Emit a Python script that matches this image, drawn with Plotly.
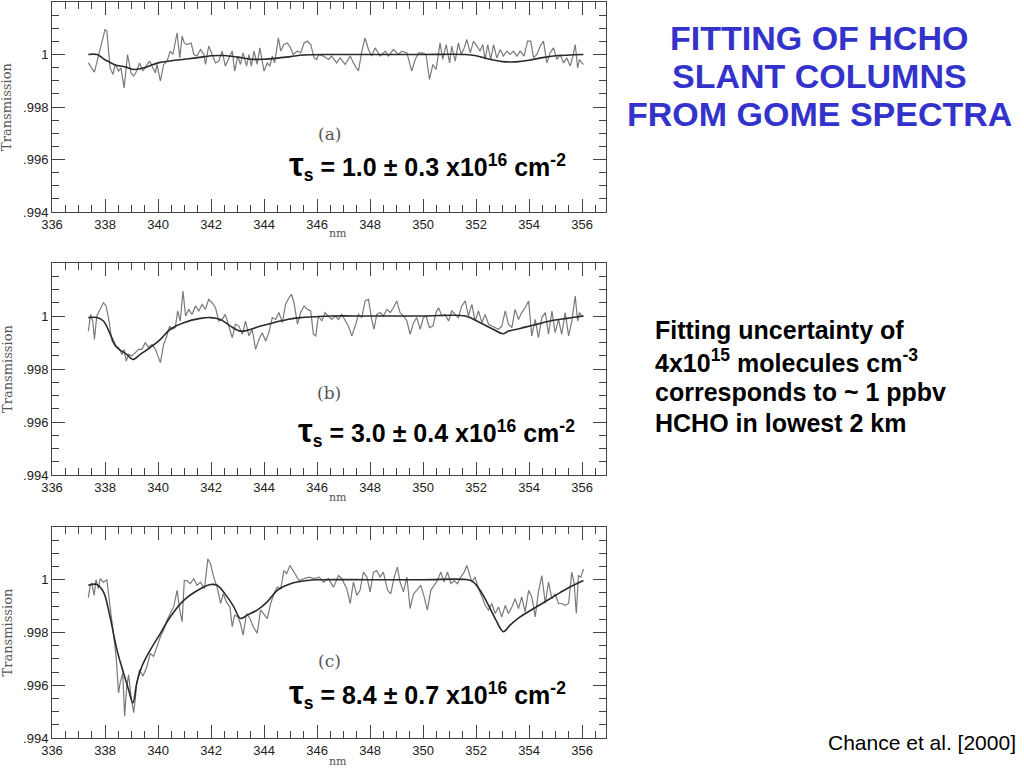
import plotly.graph_objects as go

# ---------------- data ----------------
# Panel (a)
a_nm = [337.37, 337.60, 337.75, 338.00, 338.07, 338.19, 338.30, 338.38, 338.51, 338.60,
        338.72, 338.85, 338.98, 339.08, 339.20, 339.30, 339.43, 339.56, 339.68, 339.77,
        339.90, 339.96, 340.09, 340.21, 340.34, 340.46, 340.56, 340.72, 340.82, 340.91,
        340.99, 341.09, 341.25, 341.35, 341.47, 341.60, 341.73, 341.79, 341.91, 342.04,
        342.17, 342.29, 342.42, 342.54, 342.67, 342.80, 342.89, 343.01, 343.11, 343.21,
        343.34, 343.43, 343.52, 343.62, 343.74, 343.84, 344.00, 344.12, 344.22, 344.31,
        344.40, 344.54, 344.63, 344.75, 344.88, 345.00, 345.10, 345.26, 345.38, 345.51,
        345.63, 345.76, 345.89, 345.99, 346.05, 346.24, 346.43, 346.55, 346.74, 346.87,
        347.06, 347.25, 347.37, 347.56, 347.69, 347.81, 347.94, 348.06, 348.19, 348.38,
        348.57, 348.69, 348.88, 349.07, 349.20, 349.39, 349.57, 349.70, 349.83, 349.95,
        350.11, 350.24, 350.37, 350.49, 350.64, 350.74, 350.87, 351.00, 351.08, 351.21,
        351.33, 351.44, 351.55, 351.65, 351.78, 351.90, 352.03, 352.15, 352.25, 352.34,
        352.44, 352.55, 352.66, 352.78, 352.91, 353.03, 353.16, 353.28, 353.41, 353.54,
        353.66, 353.81, 353.94, 354.06, 354.17, 354.29, 354.42, 354.54, 354.67, 354.79,
        354.92, 355.05, 355.17, 355.30, 355.42, 355.55, 355.65, 355.74, 355.83, 355.90,
        355.99, 356.05]
a_meas = [0.99968, 0.99933, 0.99994, 1.00095, 1.00089, 0.99949, 0.99924, 0.99962, 0.99937, 0.99949,
          0.99873, 1.00000, 0.99930, 0.99918, 0.99937, 0.99968, 0.99937, 0.99956, 0.99975, 0.99956,
          0.99930, 0.99962, 0.99899, 0.99962, 0.99975, 1.00013, 1.00000, 1.00082, 0.99987, 1.00070,
          1.00044, 1.00038, 1.00044, 1.00000, 0.99994, 1.00019, 1.00000, 0.99962, 1.00032, 1.00000,
          0.99968, 0.99975, 1.00013, 0.99956, 0.99987, 1.00013, 0.99937, 0.99994, 0.99962, 1.00006,
          0.99956, 1.00000, 0.99956, 1.00013, 0.99962, 1.00025, 0.99937, 0.99968, 0.99956, 0.99994,
          0.99968, 1.00063, 1.00013, 1.00038, 1.00044, 1.00025, 1.00000, 1.00013, 1.00006, 1.00044,
          1.00051, 1.00038, 0.99987, 0.99981, 1.00000, 0.99994, 0.99981, 0.99994, 0.99968, 0.99987,
          0.99962, 0.99994, 0.99968, 0.99937, 1.00013, 1.00063, 1.00019, 0.99994, 1.00025, 0.99994,
          1.00013, 0.99994, 1.00019, 1.00000, 1.00013, 1.00006, 0.99937, 0.99981, 1.00006, 1.00006,
          1.00000, 0.99905, 0.99962, 0.99943, 1.00044, 0.99981, 1.00038, 0.99968, 1.00032, 0.99975,
          1.00044, 1.00000, 1.00025, 1.00057, 1.00006, 1.00051, 1.00032, 1.00013, 1.00038, 0.99981,
          1.00038, 0.99981, 1.00038, 0.99987, 1.00019, 0.99994, 1.00013, 1.00000, 1.00013, 0.99994,
          1.00013, 0.99994, 1.00051, 1.00051, 0.99987, 1.00000, 1.00032, 1.00051, 0.99968, 1.00006,
          1.00025, 0.99981, 1.00000, 0.99968, 0.99987, 0.99956, 0.99994, 1.00038, 0.99949, 0.99981,
          0.99968, 0.99962]
a_fit_nm = [337.37, 337.70, 338.00, 338.40, 338.80, 339.10, 339.50, 340.00, 340.50, 341.00,
            341.50, 342.00, 342.50, 343.00, 343.50, 344.00, 344.50, 345.00, 345.50, 346.50,
            348.00, 350.00, 351.60, 352.00, 352.50, 353.00, 353.50, 354.00, 354.50, 355.00,
            356.05]
a_fit = [1.00000, 1.00000, 0.99980, 0.99960, 0.99952, 0.99943, 0.99950, 0.99968, 0.99976, 0.99982,
         0.99988, 0.99995, 0.99996, 0.99990, 0.99982, 0.99982, 0.99986, 0.99992, 0.99998, 1.00000,
         1.00000, 1.00000, 1.00000, 0.99995, 0.99982, 0.99973, 0.99972, 0.99978, 0.99988, 0.99995,
         1.00000]

# Panel (b)
b_nm = [337.37, 337.46, 337.54, 337.60, 337.69, 337.82, 337.94, 338.04, 338.13, 338.26,
        338.38, 338.51, 338.64, 338.72, 338.80, 338.89, 339.01, 339.14, 339.27, 339.39,
        339.52, 339.64, 339.77, 339.90, 340.09, 340.21, 340.31, 340.44, 340.53, 340.65,
        340.74, 340.84, 340.94, 341.04, 341.16, 341.28, 341.41, 341.54, 341.66, 341.79,
        341.91, 342.04, 342.17, 342.29, 342.42, 342.54, 342.67, 342.80, 342.92, 343.05,
        343.18, 343.30, 343.43, 343.55, 343.68, 343.81, 343.93, 344.06, 344.18, 344.31,
        344.44, 344.56, 344.69, 344.81, 344.94, 345.03, 345.13, 345.26, 345.38, 345.51,
        345.63, 345.76, 345.86, 345.95, 346.05, 346.18, 346.30, 346.43, 346.55, 346.68,
        346.81, 346.93, 347.06, 347.18, 347.31, 347.44, 347.56, 347.69, 347.81, 347.94,
        348.06, 348.15, 348.25, 348.38, 348.50, 348.63, 348.76, 348.88, 349.01, 349.13,
        349.26, 349.39, 349.51, 349.64, 349.76, 349.89, 350.01, 350.11, 350.24, 350.37,
        350.49, 350.58, 350.71, 350.83, 350.96, 351.08, 351.21, 351.33, 351.46, 351.59,
        351.71, 351.84, 351.96, 352.09, 352.22, 352.34, 352.47, 352.59, 352.72, 352.84,
        352.97, 353.10, 353.22, 353.35, 353.47, 353.60, 353.72, 353.85, 353.98, 354.10,
        354.23, 354.35, 354.48, 354.61, 354.73, 354.86, 354.98, 355.11, 355.23, 355.36,
        355.49, 355.61, 355.74, 355.83, 355.90, 355.99, 356.05]
b_meas = [0.99943, 1.00006, 0.99981, 0.99912, 1.00000, 1.00025, 1.00050, 1.00038, 0.99994, 0.99906,
          0.99887, 0.99881, 0.99855, 0.99874, 0.99830, 0.99855, 0.99849, 0.99862, 0.99874, 0.99874,
          0.99899, 0.99881, 0.99893, 0.99874, 0.99824, 0.99893, 0.99918, 0.99962, 0.99950, 0.99956,
          1.00019, 0.99981, 1.00094, 1.00000, 1.00025, 1.00006, 1.00038, 1.00019, 1.00044, 1.00025,
          1.00063, 1.00050, 1.00031, 0.99981, 0.99987, 1.00006, 0.99962, 0.99918, 0.99969, 0.99962,
          0.99931, 0.99981, 0.99925, 0.99950, 0.99874, 0.99912, 0.99937, 0.99906, 0.99937, 0.99994,
          0.99987, 1.00013, 0.99975, 1.00044, 1.00069, 1.00082, 1.00050, 0.99969, 1.00013, 1.00038,
          1.00025, 1.00019, 0.99931, 0.99925, 1.00000, 0.99981, 1.00013, 1.00000, 0.99987, 1.00000,
          0.99987, 1.00006, 0.99981, 0.99962, 0.99925, 0.99962, 1.00006, 0.99994, 1.00057, 1.00063,
          0.99987, 0.99950, 1.00006, 1.00013, 1.00000, 1.00025, 1.00013, 1.00031, 1.00057, 1.00013,
          1.00000, 0.99981, 0.99931, 0.99975, 0.99994, 0.99950, 0.99994, 1.00000, 0.99956, 0.99962,
          1.00013, 1.00031, 1.00000, 1.00006, 0.99981, 1.00019, 1.00006, 0.99994, 1.00038, 1.00057,
          1.00000, 1.00044, 0.99981, 1.00019, 0.99975, 1.00006, 0.99969, 0.99962, 0.99956, 0.99950,
          0.99962, 1.00019, 0.99969, 0.99956, 1.00025, 0.99987, 1.00013, 1.00031, 1.00057, 0.99925,
          0.99987, 0.99918, 0.99994, 1.00013, 0.99931, 1.00019, 0.99937, 0.99987, 0.99931, 1.00013,
          0.99925, 0.99981, 1.00075, 0.99981, 1.00013, 1.00000, 1.00000]
b_fit_nm = [337.37, 337.69, 337.94, 338.20, 338.45, 338.82, 339.05, 339.33, 339.70, 340.09,
            340.46, 340.97, 341.60, 341.98, 342.35, 342.73, 343.10, 343.37, 343.87, 344.37,
            344.88, 345.38, 345.90, 346.50, 348.00, 350.00, 351.60, 352.03, 352.53, 353.03,
            353.22, 353.66, 354.17, 354.79, 355.42, 356.05]
b_fit = [0.99994, 0.99994, 0.99981, 0.99931, 0.99881, 0.99855, 0.99836, 0.99855, 0.99881, 0.99912,
         0.99950, 0.99975, 0.99991, 0.99994, 0.99987, 0.99962, 0.99943, 0.99946, 0.99962, 0.99975,
         0.99987, 0.99994, 0.99997, 1.00000, 1.00000, 1.00000, 1.00000, 0.99981, 0.99956, 0.99933,
         0.99943, 0.99953, 0.99966, 0.99981, 0.99991, 1.00000]

# Panel (c)
c_nm = [337.37, 337.44, 337.50, 337.59, 337.66, 337.75, 337.82, 337.94, 338.07, 338.19,
        338.32, 338.42, 338.51, 338.57, 338.67, 338.74, 338.82, 338.89, 338.98, 339.08,
        339.14, 339.20, 339.30, 339.43, 339.58, 339.71, 339.83, 339.96, 340.09, 340.21,
        340.34, 340.46, 340.59, 340.72, 340.82, 340.91, 340.99, 341.09, 341.22, 341.35,
        341.47, 341.60, 341.75, 341.88, 341.98, 342.10, 342.23, 342.36, 342.46, 342.58,
        342.71, 342.80, 342.89, 343.01, 343.11, 343.21, 343.34, 343.47, 343.59, 343.74,
        343.87, 344.02, 344.12, 344.25, 344.37, 344.50, 344.63, 344.75, 344.85, 344.98,
        345.13, 345.32, 345.51, 345.70, 345.89, 346.08, 346.24, 346.43, 346.62, 346.81,
        346.93, 347.12, 347.25, 347.37, 347.50, 347.62, 347.75, 347.88, 348.00, 348.13,
        348.25, 348.38, 348.50, 348.66, 348.78, 348.91, 349.03, 349.13, 349.26, 349.39,
        349.51, 349.64, 349.76, 349.91, 350.04, 350.16, 350.29, 350.42, 350.54, 350.67,
        350.79, 350.92, 351.05, 351.17, 351.30, 351.42, 351.55, 351.65, 351.75, 351.84,
        351.96, 352.09, 352.22, 352.34, 352.47, 352.59, 352.72, 352.84, 352.97, 353.10,
        353.22, 353.35, 353.47, 353.60, 353.72, 353.85, 353.98, 354.10, 354.23, 354.35,
        354.48, 354.61, 354.73, 354.86, 354.98, 355.11, 355.23, 355.36, 355.49, 355.61,
        355.70, 355.78, 355.86, 355.95, 356.05]
c_meas = [0.99932, 0.99979, 0.99987, 0.99941, 1.00000, 0.99966, 1.00004, 0.99991, 1.00000, 0.99897,
          0.99797, 0.99709, 0.99571, 0.99609, 0.99646, 0.99483, 0.99596, 0.99640, 0.99558, 0.99496,
          0.99546, 0.99609, 0.99659, 0.99634, 0.99671, 0.99721, 0.99709, 0.99747, 0.99784, 0.99809,
          0.99847, 0.99872, 0.99897, 0.99960, 0.99885, 0.99841, 0.99997, 0.99997, 0.99985, 1.00004,
          0.99979, 0.99991, 0.99966, 1.00079, 1.00060, 1.00010, 0.99972, 0.99910, 0.99947, 0.99916,
          0.99897, 0.99822, 0.99866, 0.99859, 0.99834, 0.99790, 0.99872, 0.99853, 0.99822, 0.99797,
          0.99885, 0.99866, 0.99853, 0.99910, 0.99947, 0.99972, 0.99966, 1.00035, 1.00023, 1.00054,
          1.00029, 0.99997, 1.00004, 1.00010, 1.00004, 1.00010, 0.99991, 1.00004, 0.99972, 1.00016,
          1.00004, 0.99966, 0.99910, 0.99991, 0.99941, 0.99960, 1.00029, 1.00010, 0.99954, 1.00029,
          1.00035, 1.00010, 1.00029, 0.99960, 0.99947, 1.00010, 1.00048, 0.99991, 0.99954, 1.00010,
          0.99891, 0.99947, 0.99960, 0.99979, 0.99935, 0.99885, 0.99960, 0.99979, 0.99997, 1.00029,
          0.99991, 1.00029, 0.99985, 0.99997, 0.99985, 1.00010, 1.00029, 1.00054, 1.00023, 0.99991,
          1.00010, 0.99966, 0.99935, 0.99903, 0.99885, 0.99910, 0.99872, 0.99897, 0.99859, 0.99903,
          0.99872, 0.99897, 0.99928, 0.99891, 0.99935, 0.99878, 0.99960, 0.99935, 0.99859, 0.99954,
          1.00016, 0.99910, 0.99991, 0.99928, 0.99947, 0.99910, 0.99910, 0.99903, 0.99910, 1.00029,
          0.99985, 0.99872, 1.00016, 1.00010, 1.00041]
c_fit_nm = [337.37, 337.69, 337.94, 338.19, 338.45, 338.70, 338.89, 339.05, 339.20, 339.39,
            339.71, 340.09, 340.46, 340.97, 341.60, 341.98, 342.23, 342.61, 342.86, 343.11,
            343.36, 343.74, 344.12, 344.50, 345.00, 345.63, 346.10, 348.00, 350.00, 351.70,
            351.90, 352.15, 352.40, 352.72, 353.03, 353.28, 353.66, 354.17, 354.79, 355.42,
            356.05]
c_fit = [0.99979, 0.99982, 0.99954, 0.99859, 0.99734, 0.99646, 0.99583, 0.99533, 0.99609, 0.99671,
         0.99734, 0.99797, 0.99859, 0.99922, 0.99966, 0.99982, 0.99979, 0.99935, 0.99897, 0.99853,
         0.99866, 0.99885, 0.99916, 0.99960, 0.99985, 0.99997, 1.00000, 1.00000, 1.00000, 1.00000,
         0.99991, 0.99960, 0.99916, 0.99853, 0.99803, 0.99828, 0.99859, 0.99891, 0.99928, 0.99966,
         0.99997]

panel_labels = ["(a)", "(b)", "(c)"]
tau_values = ["1.0 ± 0.3", "3.0 ± 0.4", "8.4 ± 0.7"]
y_tickvals = [0.994, 0.996, 0.998, 1.0]
y_ticktext = [".994", ".996", ".998", "1"]

title_lines = ["FITTING OF HCHO", "SLANT COLUMNS", "FROM GOME SPECTRA"]
note_lines = ["Fitting uncertainty of",
              "4x10<sup>15</sup> molecules cm<sup>-3</sup>",
              "corresponds to ~ 1 ppbv",
              "HCHO in lowest 2 km"]
citation = "Chance et al. [2000]"

# ---------------- figure ----------------
W, H = 1024, 768
def px(x):
    return x / W
def py(y):
    return 1 - y / H

# panel pixel boxes (top, bottom)
boxes = [(2, 212), (263, 475), (527, 738)]
x_left, x_right = 52, 606

fig = go.Figure()
series = [(a_nm, a_meas, a_fit_nm, a_fit), (b_nm, b_meas, b_fit_nm, b_fit), (c_nm, c_meas, c_fit_nm, c_fit)]

axis_font = dict(family="Liberation Sans, Arial", size=13, color="#222")
for i, (mx, my, fx, fy) in enumerate(series):
    sfx = "" if i == 0 else str(i + 1)
    fig.add_trace(go.Scatter(x=mx, y=my, mode="lines", xaxis="x" + sfx, yaxis="y" + sfx,
                             line=dict(color="#7a7a7a", width=1.2), showlegend=False, hoverinfo="skip"))
    fig.add_trace(go.Scatter(x=fx, y=fy, mode="lines", xaxis="x" + sfx, yaxis="y" + sfx,
                             line=dict(color="#2a2a2a", width=1.6, shape="spline"), showlegend=False,
                             hoverinfo="skip"))
    top, bot = boxes[i]
    fig.update_layout(**{
        "xaxis" + sfx: dict(domain=[px(x_left), px(x_right)], range=[336, 356.9], anchor="y" + sfx,
                            automargin=False,
                            tick0=336, dtick=2, ticks="inside", ticklen=13, tickwidth=1, tickcolor="#444",
                            showline=True, linecolor="#444", linewidth=1, mirror="allticks",
                            showgrid=False, zeroline=False, tickfont=axis_font,
                            minor=dict(ticks="inside", dtick=0.5, tick0=336, ticklen=7, tickcolor="#444",
                                       showgrid=False)),
        "yaxis" + sfx: dict(domain=[py(bot), py(top)], range=[0.994, 1.002], anchor="x" + sfx,
                            automargin=False,
                            tickmode="array", tickvals=y_tickvals, ticktext=y_ticktext,
                            ticks="inside", ticklen=13, tickwidth=1, tickcolor="#444",
                            showline=True, linecolor="#444", linewidth=1, mirror="allticks",
                            showgrid=False, zeroline=False, tickfont=axis_font,
                            minor=dict(ticks="inside", dtick=0.0005, tick0=0.994, ticklen=7,
                                       tickcolor="#444", showgrid=False)),
    })

annotations = []
serif = "DejaVu Serif, Liberation Serif, serif"
label_y = [134, 393, 661]
tau_y = [165, 431, 693]
tau_x = [287, 296, 287]
nm_y = [233, 497, 761]
for i in range(3):
    top, bot = boxes[i]
    annotations.append(dict(x=px(7), y=py((top + bot) / 2), xref="paper", yref="paper", text="Transmission",
                            xanchor="center", yanchor="middle",
                            textangle=-90, showarrow=False, font=dict(family=serif, size=13, color="#555")))
    annotations.append(dict(x=px(338), y=py(nm_y[i]), xref="paper", yref="paper", text="nm",
                            xanchor="center", yanchor="middle",
                            showarrow=False, font=dict(family=serif, size=11, color="#555")))
    annotations.append(dict(x=px(329), y=py(label_y[i]), xref="paper", yref="paper", text=panel_labels[i],
                            xanchor="center", yanchor="middle",
                            showarrow=False, font=dict(family=serif, size=17, color="#555")))
    annotations.append(dict(x=px(tau_x[i]), y=py(tau_y[i]), xref="paper", yref="paper", xanchor="left",
                            yanchor="middle", showarrow=False,
                            text='<span style="font-size:33px">τ</span><sub>s</sub> = ' + tau_values[i]
                                 + ' x10<sup>16</sup> cm<sup>-2</sup>',
                            font=dict(family="Liberation Sans, Arial", size=25, color="black", weight="bold")))

for j, line in enumerate(title_lines):
    annotations.append(dict(x=px(819), y=py(38 + j * 38), xref="paper", yref="paper", text=line,
                            showarrow=False, xanchor="center", yanchor="middle",
                            font=dict(family="Liberation Sans, Arial", size=34, color="#3333cc",
                                      weight="bold")))
for j, line in enumerate(note_lines):
    annotations.append(dict(x=px(653), y=py(330 + j * 31), xref="paper", yref="paper", text=line,
                            showarrow=False, xanchor="left", yanchor="middle",
                            font=dict(family="Liberation Sans, Arial", size=25, color="black",
                                      weight="bold")))
annotations.append(dict(x=px(1018), y=py(742), xref="paper", yref="paper", text=citation,
                        showarrow=False, xanchor="right", yanchor="middle",
                        font=dict(family="Liberation Sans, Arial", size=21, color="black")))

fig.update_layout(width=W, height=H, margin=dict(l=0, r=0, t=0, b=0),
                  paper_bgcolor="white", plot_bgcolor="white", annotations=annotations)

fig.write_html("out.html", config={"displayModeBar": False},
               post_script="document.body.style.margin='0';")
